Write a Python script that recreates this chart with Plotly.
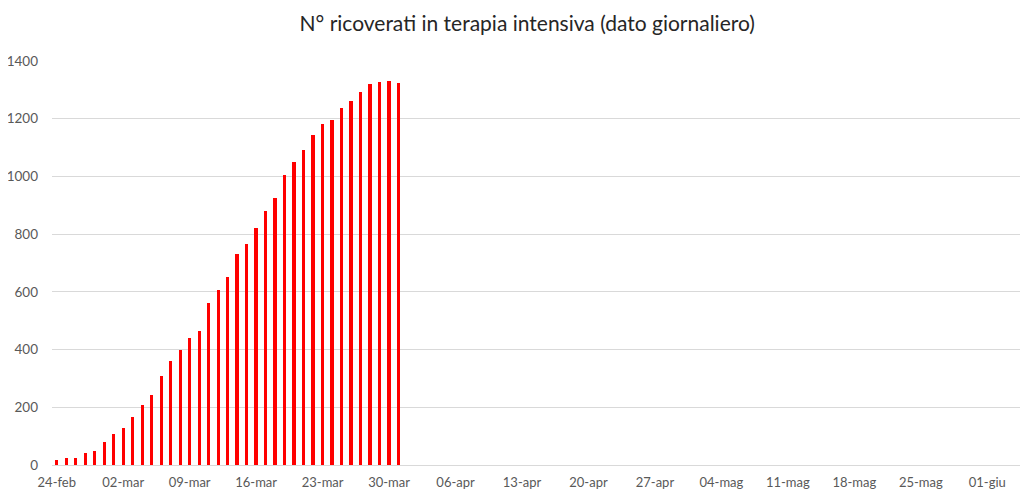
import plotly.graph_objects as go
import pandas as pd

# Data: daily ICU patients (Lombardia), 24 Feb - 31 Mar 2020
dates = pd.date_range("2020-02-24", "2020-03-31", freq="D").strftime("%Y-%m-%d").tolist()
icu = [19, 25, 25, 41, 47, 80, 106, 127, 167, 209, 244, 309, 359, 399, 440, 466,
       560, 605, 650, 732, 767, 823, 879, 924, 1006, 1050, 1093, 1142, 1183, 1194,
       1236, 1263, 1292, 1319, 1328, 1330, 1324]

tick_dates = ["2020-02-24", "2020-03-02", "2020-03-09", "2020-03-16", "2020-03-23",
              "2020-03-30", "2020-04-06", "2020-04-13", "2020-04-20", "2020-04-27",
              "2020-05-04", "2020-05-11", "2020-05-18", "2020-05-25", "2020-06-01"]
tick_labels = ["24-feb", "02-mar", "09-mar", "16-mar", "23-mar", "30-mar", "06-apr",
               "13-apr", "20-apr", "27-apr", "04-mag", "11-mag", "18-mag", "25-mag", "01-giu"]
y_ticks = [0, 200, 400, 600, 800, 1000, 1200, 1400]

title_text = "N° ricoverati in terapia intensiva (dato giornaliero)"

fig = go.Figure()
fig.add_trace(go.Bar(
    x=dates, y=icu,
    marker=dict(color="#ff0000", line=dict(width=0)),
    width=0.35 * 86400000,
))

fig.update_layout(
    width=1020, height=482,
    margin=dict(l=44, r=0, t=53, b=25),
    paper_bgcolor="white", plot_bgcolor="white",
    showlegend=False,
    title=dict(text=title_text, x=0.509, xanchor="center", y=0.968, yanchor="middle",
               font=dict(family="Lato", size=21, color="#262626")),
    font=dict(family="Lato", color="#595959", size=13),
    bargap=0,
)
fig.update_xaxes(
    type="date",
    range=["2020-02-23 12:00", "2020-06-05 07:00"],
    tickmode="array", tickvals=tick_dates, ticktext=tick_labels,
    showgrid=False, showline=False, ticks="", zeroline=False,
    ticklabelstandoff=8,
    tickfont=dict(size=13, color="#595959"),
)
fig.update_yaxes(
    range=[0, 1400],
    tickmode="array", tickvals=y_ticks,
    showgrid=True, gridcolor="#d9d9d9", gridwidth=1,
    zeroline=True, zerolinecolor="#d9d9d9", zerolinewidth=1,
    showline=False, ticks="", ticklabelstandoff=13,
    tickfont=dict(size=13.5, color="#595959"),
)

fig.write_html("out.html")
